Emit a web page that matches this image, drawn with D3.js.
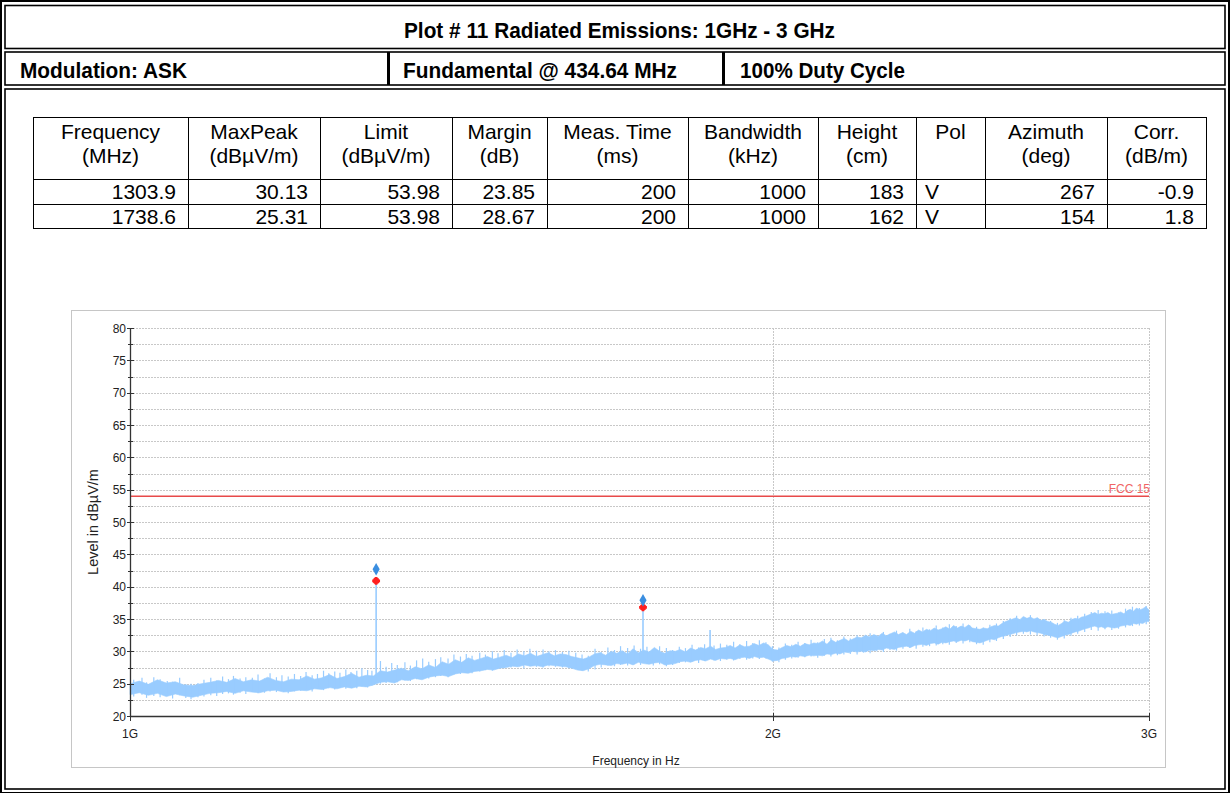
<!DOCTYPE html>
<html><head><meta charset="utf-8">
<script src="https://cdn.jsdelivr.net/npm/d3@7"></script>
<style>
html,body{margin:0;padding:0;background:#fff;overflow:hidden}
svg{display:block}
</style></head><body>
<svg id="c" width="1231" height="793"></svg>
<script>
// ---------------- data ----------------
const titleText = "Plot # 11 Radiated Emissions: 1GHz - 3 GHz";
const infoCells = ["Modulation: ASK", "Fundamental @ 434.64 MHz", "100% Duty Cycle"];

const headerLine1 = ["Frequency","MaxPeak","Limit","Margin","Meas. Time","Bandwidth","Height","Pol","Azimuth","Corr."];
const headerLine2 = ["(MHz)","(dBµV/m)","(dBµV/m)","(dB)","(ms)","(kHz)","(cm)","","(deg)","(dB/m)"];
const colFrequency = ["1303.9","1738.6"];
const colMaxPeak   = ["30.13","25.31"];
const colLimit     = ["53.98","53.98"];
const colMargin    = ["23.85","28.67"];
const colMeasTime  = ["200","200"];
const colBandwidth = ["1000","1000"];
const colHeight    = ["183","162"];
const colPol       = ["V","V"];
const colAzimuth   = ["267","154"];
const colCorr      = ["-0.9","1.8"];

const yTickValues = [20,25,30,35,40,45,50,55,60,65,70,75,80];
const yMinorValues = [22.5,27.5,32.5,37.5,42.5,47.5,52.5,57.5,62.5,67.5,72.5,77.5];
const xTickValues = [1e9, 2e9, 3e9];
const xTickLabels = ["1G","2G","3G"];

const limitName = "FCC 15";
const limitLevel = 53.98;

// peaks: preview (blue diamond) and final (red star)
const peakMHz = [1303.9, 1738.6];
const previewLevel = [42.7, 37.9];
const finalLevel = [40.9, 36.8];

// narrow spikes in the trace
const spikeMHz = [1303.9, 1738.6, 1869];
const spikeBase = [26.0, 29.2, 29.8];
const spikeTop = [40.9, 36.8, 33.3];

// spectrum trace, 10 MHz sweep points from 1000 MHz to 3000 MHz (lower / upper envelope)
const traceStartMHz = 1000, traceStepMHz = 10;
const traceHigh = [
 25.0,25.4,24.9,25.6,25.1,25.3,24.8,24.7,25.0,25.2,
 25.5,25.2,25.8,25.3,25.6,25.4,26.0,25.5,25.3,25.7,
 25.6,26.2,25.7,25.9,26.4,25.8,26.1,26.6,26.0,26.3,
 26.2,27.0,26.8,27.1,27.4,27.0,27.6,27.3,27.9,27.5,
 28.4,28.0,28.7,28.3,29.0,28.6,28.9,29.2,28.8,29.1,
 29.4,29.0,29.6,29.3,29.7,29.2,29.5,29.8,29.3,29.6,
 29.5,29.2,29.0,28.8,29.1,29.6,29.8,29.4,30.0,29.7,
 30.1,29.6,30.4,29.8,30.2,29.9,30.6,30.0,29.7,30.1,
 30.0,30.3,29.9,30.5,30.2,30.6,30.4,30.8,30.3,30.5,
 30.6,30.9,30.5,31.0,30.7,30.8,31.2,30.9,31.3,31.0,
 30.3,30.2,30.6,30.9,30.7,31.1,30.8,31.2,31.0,31.3,
 31.2,31.6,31.1,31.8,31.4,31.7,32.0,31.6,31.9,32.2,
 32.1,32.5,32.2,32.6,32.3,32.8,32.4,32.7,33.0,32.6,
 32.9,32.6,33.1,32.8,33.3,33.0,33.4,33.2,33.6,33.3,
 33.5,33.8,33.4,34.0,33.6,33.9,33.7,34.1,33.6,33.5,
 33.4,33.6,33.5,33.8,34.0,33.9,34.3,34.6,34.8,35.0,
 35.2,34.9,35.4,35.1,35.3,35.0,35.2,34.8,34.9,34.6,
 34.5,34.2,34.0,34.3,34.7,34.5,34.9,35.1,35.0,35.3,
 35.4,35.6,35.8,36.0,35.7,35.9,35.8,36.0,35.7,35.8,
 35.9,36.1,35.8,36.3,36.5,36.2,36.7,36.4,36.6,36.9,
 36.4];
const traceLow = [
 23.3,23.6,23.2,23.5,23.0,23.4,23.1,22.9,23.2,23.5,
 23.6,23.8,23.5,23.9,23.7,23.6,23.9,24.0,23.7,23.8,
 24.0,23.9,24.2,24.1,24.4,24.2,24.5,24.3,24.6,24.5,
 24.8,25.2,25.3,25.1,25.6,25.5,25.8,25.6,26.0,26.2,
 26.3,26.1,26.5,26.7,26.6,26.9,27.0,27.2,27.1,27.4,
 27.5,27.7,27.6,27.9,27.7,27.8,27.6,27.9,27.8,27.7,
 27.6,27.4,27.1,27.0,27.3,27.8,28.0,27.9,27.8,28.1,
 28.0,28.2,27.9,28.3,28.1,28.0,28.2,28.3,27.9,28.0,
 28.1,28.4,28.5,28.3,28.6,28.7,28.5,28.8,28.6,28.9,
 28.8,28.9,28.7,29.0,29.1,28.9,29.2,29.0,29.1,28.8,
 28.5,28.6,28.9,29.0,29.2,29.1,29.3,29.2,29.4,29.3,
 29.4,29.3,29.6,29.5,29.7,29.6,29.9,29.8,30.0,29.9,
 30.0,29.9,30.2,30.1,30.3,30.2,30.5,30.4,30.3,30.6,
 30.7,30.8,30.6,30.9,31.0,31.1,30.9,31.2,31.3,31.1,
 31.4,31.3,31.5,31.6,31.5,31.7,31.6,31.8,31.5,31.4,
 31.3,31.5,31.7,31.9,31.8,32.1,32.3,32.4,32.6,32.7,
 32.9,33.0,33.1,33.0,33.2,33.0,32.9,32.8,32.6,32.5,
 32.4,32.2,32.1,32.3,32.5,32.6,32.8,33.0,33.1,33.3,
 33.5,33.6,33.8,33.9,33.7,33.8,33.6,33.8,33.7,33.6,
 33.7,33.9,34.0,34.1,34.0,34.3,34.2,34.4,34.3,34.6,
 34.6];

// single-bin noise excursions (MHz, low dB, high dB)
const noiseMHz = [1004,1013,1018,1026,1033,1041,1047,1055,1062,1068,1076,1083,1091,1098,
 1105,1112,1118,1126,1133,1141,1148,1156,1163,1171,1178,1186,1194,1202,1209,1217,1224,1232,
 1239,1247,1254,1262,1269,1277,1284,1292,1298,1310,1318,1326,1334,1345,1353,1362,1371,1380,
 1390,1398,1409,1418,1428,1437,1446,1458,1467,1478,1487,1497,1508,1518,1529,1539,1550,1561,
 1571,1582,1594,1605,1617,1628,1639,1651,1662,1674,1686,1697,1710,1722,1734,1746,1758,1770,
 1783,1795,1808,1820,1833,1846,1858,1877,1890,1903,1917,1930,1944,1957,1971,1985,1999,2013,
 2027,2041,2055,2070,2084,2099,2114,2129,2144,2159,2174,2190,2205,2221,2237,2253,2269,2285,
 2301,2318,2334,2351,2368,2385,2402,2419,2437,2455,2473,2491,2509,2527,2545,2564,2583,2601,
 2620,2640,2659,2679,2698,2718,2738,2758,2778,2799,2819,2840,2861,2882,2903,2925,2947,2969,2991];
const noiseLow = [23.0,23.3,22.8,23.1,22.9,23.4,22.7,23.2,22.8,22.6,22.9,23.0,23.2,23.1,
 23.4,23.5,23.3,23.6,23.4,23.7,23.5,23.6,23.8,23.7,23.9,23.5,23.8,23.9,24.1,23.8,24.2,24.0,
 24.3,24.1,24.4,24.2,24.5,24.3,24.6,24.4,24.7,25.0,25.1,25.3,25.2,25.5,25.4,25.7,25.9,25.8,
 26.0,26.2,26.0,26.4,26.5,26.7,26.6,26.9,27.1,27.0,27.3,27.4,27.5,27.6,27.4,27.7,27.6,27.5,
 27.7,27.6,27.5,27.4,27.3,27.0,26.9,27.2,27.5,27.8,27.7,27.9,27.8,28.0,27.9,28.1,27.8,28.0,
 27.7,27.9,28.2,28.3,28.4,28.2,28.5,28.6,28.5,28.7,28.6,28.8,28.7,28.9,28.8,28.9,28.4,28.3,
 28.7,28.9,29.0,29.1,29.2,29.0,29.3,29.2,29.4,29.5,29.6,29.5,29.8,29.7,30.0,29.9,30.2,30.1,
 30.4,30.5,30.4,30.7,30.8,30.9,31.1,31.0,31.3,31.2,31.4,31.1,31.0,31.4,31.6,31.9,32.2,32.5,
 32.7,32.6,32.5,32.3,32.1,31.8,32.0,32.4,32.7,33.0,33.3,33.2,33.4,33.3,33.5,33.7,33.9,34.0,34.2];
const noiseHigh = [25.6,25.9,25.2,26.0,25.7,25.4,25.3,25.9,24.9,25.0,25.1,25.6,25.9,25.5,
 26.1,25.7,26.2,25.8,26.0,25.9,26.4,25.8,26.6,26.0,26.3,26.1,26.5,26.2,26.8,26.3,26.5,27.0,
 26.6,26.9,26.7,27.2,26.8,27.0,27.4,27.1,27.0,28.5,27.6,28.2,27.9,28.3,27.8,28.6,28.9,28.4,
 28.8,29.1,28.9,29.5,29.2,29.6,29.3,29.8,29.5,30.0,29.7,30.2,29.8,30.3,30.0,30.4,30.1,30.3,
 30.0,30.2,29.9,30.1,29.8,29.5,29.3,30.4,29.9,30.6,30.2,30.8,30.5,30.9,30.4,30.7,30.3,30.8,
 30.5,30.2,30.7,30.5,31.0,30.6,31.1,30.9,31.2,31.0,31.5,31.1,31.6,31.3,31.7,31.4,30.8,30.6,
 31.2,31.0,31.5,31.3,31.8,31.4,31.9,32.1,31.7,32.3,32.0,32.5,32.2,32.8,32.5,33.0,32.7,33.2,
 32.9,33.5,33.1,33.7,33.4,34.0,33.7,34.2,33.9,34.3,34.0,33.8,33.7,34.1,34.3,34.7,35.1,35.5,
 35.3,35.6,35.2,35.0,34.7,34.4,34.8,35.2,35.5,35.8,36.1,36.4,36.2,36.3,36.0,36.6,36.9,36.7,37.0];

// ---------------- drawing ----------------
const svg = d3.select("#c");
const narrow = "'Liberation Sans Narrow','Arial Narrow','Liberation Sans',Arial,sans-serif";
const sans = "'Liberation Sans',Arial,Helvetica,sans-serif";

svg.append("rect").attr("width",1231).attr("height",793).attr("fill","#fff");

// page frame (double lines)
const frame = svg.append("g").attr("fill","none").attr("stroke","#000");
frame.append("rect").attr("x",1).attr("y",1).attr("width",1228).attr("height",792).attr("stroke-width",2);
frame.append("rect").attr("x",5).attr("y",5.5).attr("width",1220).attr("height",43).attr("stroke-width",1.6);
frame.append("rect").attr("x",5).attr("y",52).attr("width",1220).attr("height",33).attr("stroke-width",1.6);
frame.append("rect").attr("x",5).attr("y",89).attr("width",1220).attr("height",700).attr("stroke-width",1.6);
[388.5, 723.5].forEach(xx => frame.append("line").attr("x1",xx).attr("x2",xx).attr("y1",52).attr("y2",85).attr("stroke-width",3));

svg.append("text").text(titleText)
  .attr("x",404).attr("y",38).attr("textLength",431).attr("lengthAdjust","spacingAndGlyphs")
  .style("font-family",narrow).style("font-weight","bold").style("font-size","22px");
const infoX = [20, 403, 740], infoW = [167, 274, 165];
infoCells.forEach((t,i) => svg.append("text").text(t)
  .attr("x",infoX[i]).attr("y",78).attr("textLength",infoW[i]).attr("lengthAdjust","spacingAndGlyphs")
  .style("font-family",narrow).style("font-weight","bold").style("font-size","22px"));

// table
const colEdges = [33,188,320,452,547,688,818,916,985,1107,1206];
const rowEdges = [117,179,204,228];
const tg = svg.append("g");
colEdges.forEach(cx => tg.append("line").attr("x1",cx+0.5).attr("x2",cx+0.5).attr("y1",rowEdges[0]).attr("y2",rowEdges[3]).attr("stroke","#000"));
rowEdges.forEach(ry => tg.append("line").attr("x1",colEdges[0]).attr("x2",colEdges[10]+1).attr("y1",ry+0.5).attr("y2",ry+0.5).attr("stroke","#000"));
const txtStyle = s => s.style("font-family",sans).style("font-size","21px").attr("fill","#000");
headerLine1.forEach((h,i) => {
  const cx = (colEdges[i]+colEdges[i+1])/2;
  tg.append("text").text(h).attr("x",cx).attr("y",139).attr("text-anchor","middle").call(txtStyle);
  if (headerLine2[i]) tg.append("text").text(headerLine2[i]).attr("x",cx).attr("y",163).attr("text-anchor","middle").call(txtStyle);
});
const cols = [colFrequency,colMaxPeak,colLimit,colMargin,colMeasTime,colBandwidth,colHeight,colPol,colAzimuth,colCorr];
cols.forEach((col,i) => col.forEach((v,r) => {
  const yy = rowEdges[r+1] + 19.5;
  if (i === 7) tg.append("text").text(v).attr("x",colEdges[i]+9).attr("y",yy).call(txtStyle);
  else tg.append("text").text(v).attr("x",colEdges[i+1]-12).attr("y",yy).attr("text-anchor","end").call(txtStyle);
}));

// chart frame
svg.append("rect").attr("x",71.5).attr("y",310.5).attr("width",1094).attr("height",457)
  .attr("fill","#fff").attr("stroke","#c6c6c6");

const x = d3.scaleLog().domain([1e9,3e9]).range([130,1149]);
const y = d3.scaleLinear().domain([20,80]).range([716,328]);

// grid
const grid = svg.append("g").attr("stroke","#c8c8c8").attr("stroke-dasharray","2,1").attr("stroke-width",1);
yMinorValues.concat(yTickValues.filter(v=>v>20)).forEach(v =>
  grid.append("line").attr("x1",x(1e9)).attr("x2",x(3e9)).attr("y1",Math.round(y(v))+0.5).attr("y2",Math.round(y(v))+0.5));
xTickValues.slice(1).forEach(v =>
  grid.append("line").attr("x1",Math.round(x(v))+0.5).attr("x2",Math.round(x(v))+0.5).attr("y1",y(80)).attr("y2",y(20)));

// trace
const traceCol = "#99ccff";
const trace = traceHigh.map((h,i) => ({f:(traceStartMHz + i*traceStepMHz)*1e6, hi:h, lo:traceLow[i]}));
const area = d3.area().x(d=>x(d.f)).y0(d=>y(d.lo)).y1(d=>y(d.hi));
svg.append("path").datum(trace).attr("d",area).attr("fill",traceCol).attr("stroke",traceCol).attr("stroke-width",0.6);
const ng = svg.append("g").attr("stroke",traceCol).attr("stroke-width",1.2);
noiseMHz.forEach((f,i) => ng.append("line")
  .attr("x1",x(f*1e6)).attr("x2",x(f*1e6)).attr("y1",y(noiseLow[i])).attr("y2",y(noiseHigh[i])));
spikeMHz.forEach((f,i) => svg.append("line")
  .attr("x1",x(f*1e6)).attr("x2",x(f*1e6)).attr("y1",y(spikeBase[i])).attr("y2",y(spikeTop[i]))
  .attr("stroke",traceCol).attr("stroke-width",1.6));

// limit line
svg.append("line").attr("x1",x(1e9)).attr("x2",x(3e9)).attr("y1",y(limitLevel)).attr("y2",y(limitLevel))
  .attr("stroke","#e84a4a").attr("stroke-width",1.6);
svg.append("text").text(limitName).attr("x",x(3e9)+1).attr("y",y(limitLevel)-3).attr("text-anchor","end")
  .attr("fill","#f06464").style("font-family",sans).style("font-size","12px");

// markers
peakMHz.forEach((f,i) => {
  const px = x(f*1e6);
  svg.append("path").attr("d",d3.symbol().type(d3.symbolCross).size(34)())
    .attr("transform",`translate(${px},${y(finalLevel[i])})`).attr("fill","#ff2020");
  svg.append("path").attr("d",d3.symbol().type(d3.symbolCross).size(26)())
    .attr("transform",`translate(${px},${y(finalLevel[i])}) rotate(45)`).attr("fill","#ff2020");
  svg.append("path").attr("d",d3.symbol().type(d3.symbolDiamond).size(44)())
    .attr("transform",`translate(${px},${y(previewLevel[i])})`).attr("fill","#3a8ee0");
});

// axes
const ax = svg.append("g").attr("stroke","#333");
ax.append("line").attr("x1",130.5).attr("x2",130.5).attr("y1",y(80)).attr("y2",y(20)+0.5).attr("stroke-width",1.3);
ax.append("line").attr("x1",130).attr("x2",x(3e9)+0.5).attr("y1",716.5).attr("y2",716.5).attr("stroke-width",1.5);
yTickValues.forEach(v => ax.append("line").attr("x1",127).attr("x2",134).attr("y1",Math.round(y(v))+0.5).attr("y2",Math.round(y(v))+0.5));
yMinorValues.forEach(v => ax.append("line").attr("x1",128).attr("x2",133).attr("y1",Math.round(y(v))+0.5).attr("y2",Math.round(y(v))+0.5));
xTickValues.forEach(v => ax.append("line").attr("x1",Math.round(x(v))+0.5).attr("x2",Math.round(x(v))+0.5).attr("y1",713).attr("y2",721));

const lab = svg.append("g").style("font-family",sans).style("font-size","12px").attr("fill","#222");
yTickValues.forEach(v => lab.append("text").text(v).attr("x",126).attr("y",y(v)+4.5).attr("text-anchor","end"));
xTickValues.forEach((v,i) => lab.append("text").text(xTickLabels[i]).attr("x",x(v)).attr("y",738).attr("text-anchor","middle"));
lab.append("text").text("Frequency in Hz").attr("x",636).attr("y",765).attr("text-anchor","middle");
lab.append("text").text("Level in dBµV/m").attr("transform","translate(98,522) rotate(-90)").attr("text-anchor","middle")
  .style("font-size","14.5px");
</script>
</body></html>
